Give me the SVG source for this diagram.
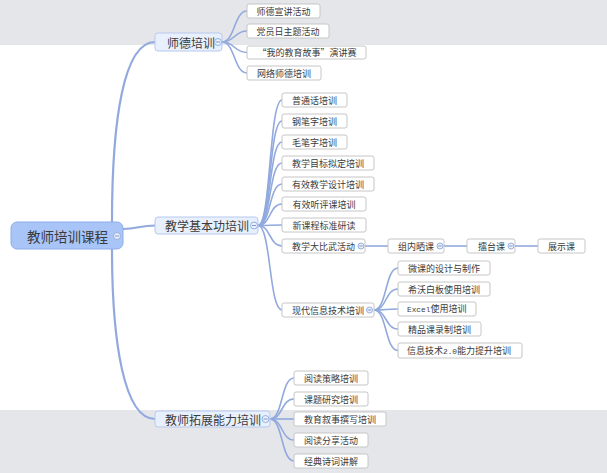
<svg xmlns="http://www.w3.org/2000/svg" width="607" height="473" viewBox="0 0 607 473">
<style>
.bg{fill:#e5e6ea}
.c{fill:none;stroke:#91a9dd;stroke-width:1.6}
.c0{fill:none;stroke:#91a9dd;stroke-width:2.2}
.leaf{fill:#ffffff;stroke:#c6c6c6;stroke-width:1}
.l1{fill:#e9f0fd;stroke:#b6c9ef;stroke-width:1}
.root{fill:#a9c4f6;stroke:#8cadea;stroke-width:1}
text{font-family:"Noto Sans CJK SC","Liberation Sans",sans-serif;fill:#3a3a3a;dominant-baseline:central}
text.ab{dominant-baseline:alphabetic}
.t9{font-size:9px}
.t12{font-size:12px}
.t14{font-size:13.5px}
.m{text-anchor:middle}
.mono{font-family:"Liberation Mono",monospace;font-size:7.8px}
.cb{fill:#eaf0fc;stroke:#97aedd;stroke-width:1}
.cm{stroke:#7f97cc;stroke-width:1}
</style>
<rect class="bg" x="0" y="0" width="607" height="45"/>
<rect class="bg" x="0" y="410" width="607" height="63"/>

<g id="connectors">
<path class="c0" d="M112,222 C112,118 124,42 155,42"/>
<path class="c0" d="M123,229 C137,229 140,225.5 155,225.5"/>
<path class="c0" d="M112,249 C112,342 124,419 155,419"/>
<path class="c" d="M222,42 C235,42 234,11 247,11"/>
<path class="c" d="M222,42 C235,42 234,31 247,31"/>
<path class="c" d="M222,42 C235,42 234,52.5 247,52.5"/>
<path class="c" d="M222,42 C235,42 234,73 247,73"/>
<path class="c" d="M258,225.5 C271,225.5 269,100 282,100"/>
<path class="c" d="M258,225.5 C271,225.5 269,121 282,121"/>
<path class="c" d="M258,225.5 C271,225.5 269,142 282,142"/>
<path class="c" d="M258,225.5 C271,225.5 269,163 282,163"/>
<path class="c" d="M258,225.5 C271,225.5 269,184 282,184"/>
<path class="c" d="M258,225.5 C271,225.5 269,204 282,204"/>
<path class="c" d="M258,225.5 C271,225.5 269,225 282,225"/>
<path class="c" d="M258,225.5 C271,225.5 269,246 282,246"/>
<path class="c" d="M258,225.5 C271,225.5 269,310 282,310"/>
<path class="c" d="M365,246 L388,246"/>
<path class="c" d="M444,246 L467,246"/>
<path class="c" d="M515,246 L538,246"/>
<path class="c" d="M374,310 C387,310 385,268 398,268"/>
<path class="c" d="M374,310 C387,310 385,289 398,289"/>
<path class="c" d="M374,310 C387,310 385,309 398,309"/>
<path class="c" d="M374,310 C387,310 385,329 398,329"/>
<path class="c" d="M374,310 C387,310 385,350.5 398,350.5"/>
<path class="c" d="M270,419 C283,419 281,378 294,378"/>
<path class="c" d="M270,419 C283,419 281,399 294,399"/>
<path class="c" d="M270,419 C283,419 281,419 294,419"/>
<path class="c" d="M270,419 C283,419 281,440 294,440"/>
<path class="c" d="M270,419 C283,419 281,461 294,461"/>
</g>

<g id="root">
<rect class="root" x="11" y="222" width="112" height="27" rx="6"/>
<text class="t14" x="27" y="236">教师培训课程</text>
<circle class="cb" cx="117" cy="236" r="3.5"/><line class="cm" x1="115" y1="236" x2="119" y2="236"/>
</g>

<g id="shide">
<rect class="l1" x="155" y="33" width="67" height="18" rx="3"/>
<text class="t12" x="167" y="42">师德培训</text>
<circle class="cb" cx="218" cy="42" r="3.5"/><line class="cm" x1="216" y1="42" x2="220" y2="42"/>
</g>
<g id="sd1"><rect class="leaf" x="247" y="4" width="73" height="14" rx="2"/><text class="t9 m" x="283.5" y="11">师德宣讲活动</text></g>
<g id="sd2"><rect class="leaf" x="247" y="24" width="82" height="14" rx="2"/><text class="t9 m" x="288" y="31">党员日主题活动</text></g>
<g id="sd3"><rect class="leaf" x="247" y="46" width="119" height="13" rx="2"/><text class="t9 m" x="307" y="52.5">“我的教育故事”演讲赛</text></g>
<g id="sd4"><rect class="leaf" x="247" y="66" width="74" height="14" rx="2"/><text class="t9 m" x="284" y="73">网络师德培训</text></g>

<g id="jiben">
<rect class="l1" x="155" y="217" width="103" height="17" rx="3"/>
<text class="t12" x="165" y="225.5">教学基本功培训</text>
<circle class="cb" cx="254" cy="225.5" r="3.5"/><line class="cm" x1="252" y1="225.5" x2="256" y2="225.5"/>
</g>
<g id="jb1"><rect class="leaf" x="282" y="93" width="65" height="14" rx="2"/><text class="t9 m" x="314.5" y="100">普通话培训</text></g>
<g id="jb2"><rect class="leaf" x="282" y="114" width="65" height="14" rx="2"/><text class="t9 m" x="314.5" y="121">钢笔字培训</text></g>
<g id="jb3"><rect class="leaf" x="282" y="135" width="65" height="14" rx="2"/><text class="t9 m" x="314.5" y="142">毛笔字培训</text></g>
<g id="jb4"><rect class="leaf" x="282" y="156" width="92" height="14" rx="2"/><text class="t9 m" x="328" y="163">教学目标拟定培训</text></g>
<g id="jb5"><rect class="leaf" x="282" y="177" width="92" height="14" rx="2"/><text class="t9 m" x="328" y="184">有效教学设计培训</text></g>
<g id="jb6"><rect class="leaf" x="282" y="197" width="84" height="14" rx="2"/><text class="t9 m" x="324" y="204">有效听评课培训</text></g>
<g id="jb7"><rect class="leaf" x="282" y="218" width="84" height="14" rx="2"/><text class="t9 m" x="324" y="225">新课程标准研读</text></g>
<g id="jb8">
<rect class="leaf" x="282" y="239" width="83" height="14" rx="2"/><text class="t9" x="292" y="246">教学大比武活动</text>
<circle class="cb" cx="361" cy="246" r="3"/><line class="cm" x1="359.3" y1="246" x2="362.7" y2="246"/>
</g>
<g id="bw1">
<rect class="leaf" x="388" y="239" width="56" height="14" rx="2"/><text class="t9" x="398" y="246">组内晒课</text>
<circle class="cb" cx="440" cy="246" r="3"/><line class="cm" x1="438.3" y1="246" x2="441.7" y2="246"/>
</g>
<g id="bw2">
<rect class="leaf" x="467" y="239" width="48" height="14" rx="2"/><text class="t9" x="478" y="246">擂台课</text>
<circle class="cb" cx="511" cy="246" r="3"/><line class="cm" x1="509.3" y1="246" x2="512.7" y2="246"/>
</g>
<g id="bw3"><rect class="leaf" x="538" y="239" width="47" height="14" rx="2"/><text class="t9 m" x="561.5" y="246">展示课</text></g>
<g id="jb9">
<rect class="leaf" x="282" y="303" width="92" height="14" rx="2"/><text class="t9" x="292" y="310">现代信息技术培训</text>
<circle class="cb" cx="369.5" cy="310" r="3"/><line class="cm" x1="367.8" y1="310" x2="371.2" y2="310"/>
</g>
<g id="xd1"><rect class="leaf" x="398" y="261" width="92" height="14" rx="2"/><text class="t9 m" x="444" y="268">微课的设计与制作</text></g>
<g id="xd2"><rect class="leaf" x="398" y="282" width="92" height="14" rx="2"/><text class="t9 m" x="444" y="289">希沃白板使用培训</text></g>
<g id="xd3"><rect class="leaf" x="398" y="302" width="78" height="14" rx="2"/><text class="t9 ab" x="407" y="312.3"><tspan class="mono">Excel</tspan>使用培训</text></g>
<g id="xd4"><rect class="leaf" x="398" y="322" width="83" height="14" rx="2"/><text class="t9 m" x="439.5" y="329">精品课录制培训</text></g>
<g id="xd5"><rect class="leaf" x="398" y="343" width="124" height="15" rx="2"/><text class="t9 ab" x="407" y="353.8">信息技术<tspan class="mono">2.0</tspan>能力提升培训</text></g>

<g id="tuozhan">
<rect class="l1" x="155" y="411" width="115" height="16" rx="3"/>
<text class="t12" x="165" y="419">教师拓展能力培训</text>
<circle class="cb" cx="265.5" cy="419" r="3.5"/><line class="cm" x1="263.5" y1="419" x2="267.5" y2="419"/>
</g>
<g id="tz1"><rect class="leaf" x="294" y="371" width="74" height="14" rx="2"/><text class="t9 m" x="331" y="378">阅读策略培训</text></g>
<g id="tz2"><rect class="leaf" x="294" y="392" width="74" height="14" rx="2"/><text class="t9 m" x="331" y="399">课题研究培训</text></g>
<g id="tz3"><rect class="leaf" x="294" y="412" width="92" height="14" rx="2"/><text class="t9 m" x="340" y="419">教育叙事撰写培训</text></g>
<g id="tz4"><rect class="leaf" x="294" y="433" width="74" height="14" rx="2"/><text class="t9 m" x="331" y="440">阅读分享活动</text></g>
<g id="tz5"><rect class="leaf" x="294" y="454" width="74" height="14" rx="2"/><text class="t9 m" x="331" y="461">经典诗词讲解</text></g>
</svg>
